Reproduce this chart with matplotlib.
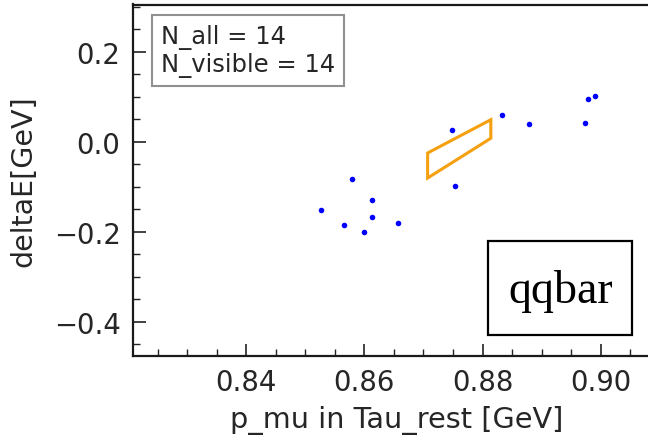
import matplotlib
matplotlib.use("Agg")
import matplotlib.pyplot as plt
from matplotlib.patches import Rectangle, Polygon
from matplotlib.ticker import MultipleLocator

plt.rcParams['font.family'] = ['DejaVu Sans']

# data
p_mu = [0.8527, 0.8565, 0.8579, 0.8600, 0.8612, 0.8612, 0.8656,
        0.8748, 0.8753, 0.8833, 0.8878, 0.8973, 0.8978, 0.8991]
delta_e = [-0.152, -0.184, -0.083, -0.201, -0.130, -0.168, -0.181,
           0.026, -0.099, 0.059, 0.039, 0.042, 0.095, 0.102]
cut_x = [0.8707, 0.8814, 0.8814, 0.8707]
cut_y = [-0.0251, 0.0489, 0.0076, -0.0807]
n_all = 14
n_visible = 14
sample = "qqbar"

fig = plt.figure(figsize=(6.48, 4.39), dpi=100)
W, H = 648, 439
l, r, t, b = 133, 660, 5.5, 357
ax = fig.add_axes([l / W, 1 - b / H, (r - l) / W, (b - t) / H])

ax.plot(p_mu, delta_e, 'o', color='#0000ff', markersize=4.0, markeredgewidth=0)
ax.add_patch(Polygon(list(zip(cut_x, cut_y)), closed=True, fill=False,
                     edgecolor='#f5a00f', linewidth=2.2, joinstyle='miter'))

ax.set_xlim(0.82082, 0.91004)
ax.set_ylim(-0.4762, 0.3049)
ax.xaxis.set_major_locator(MultipleLocator(0.02))
ax.xaxis.set_minor_locator(MultipleLocator(0.005))
ax.yaxis.set_major_locator(MultipleLocator(0.2))
ax.yaxis.set_minor_locator(MultipleLocator(0.05))
ax.tick_params(which='both', direction='in', color='#222222', labelcolor='#262626',
               labelsize=19.8, pad=9)
ax.tick_params(which='major', length=9, width=1.2)
ax.tick_params(which='minor', length=5, width=1.0)
for s in ['left', 'bottom', 'top']:
    ax.spines[s].set_linewidth(1.6)
    ax.spines[s].set_color('#1a1a1a')
ax.spines['right'].set_visible(False)

ax.set_xlabel("p_mu in Tau_rest [GeV]", fontsize=20.7, color='#262626', labelpad=6)
ax.set_ylabel("deltaE[GeV]", fontsize=20.5, color='#262626', labelpad=12)

ax.text((160.7 - l) / (r - l), (b - 25) / (b - t),
        f"N_all = {n_all}\nN_visible = {n_visible}",
        transform=ax.transAxes, ha='left', va='top', fontsize=17.5, color='#262626',
        linespacing=1.15,
        bbox=dict(boxstyle='square,pad=0.36', facecolor='white', edgecolor='#909090', linewidth=1.5))

rx0, rx1, ry0, ry1 = 488.3, 632.3, 242.3, 336
ax.add_patch(Rectangle(((rx0 - l) / (r - l), (b - ry1) / (b - t)),
                       (rx1 - rx0) / (r - l), (ry1 - ry0) / (b - t),
                       transform=ax.transAxes, fill=True, facecolor='white',
                       edgecolor='black', linewidth=1.6, zorder=3))
ax.text(((rx0 + rx1) / 2 - l) / (r - l), (b - 303.3) / (b - t), sample,
        transform=ax.transAxes, ha='center', va='baseline', fontsize=33,
        family='Liberation Serif', color='black', zorder=4)

fig.savefig("out.png", dpi=100)
